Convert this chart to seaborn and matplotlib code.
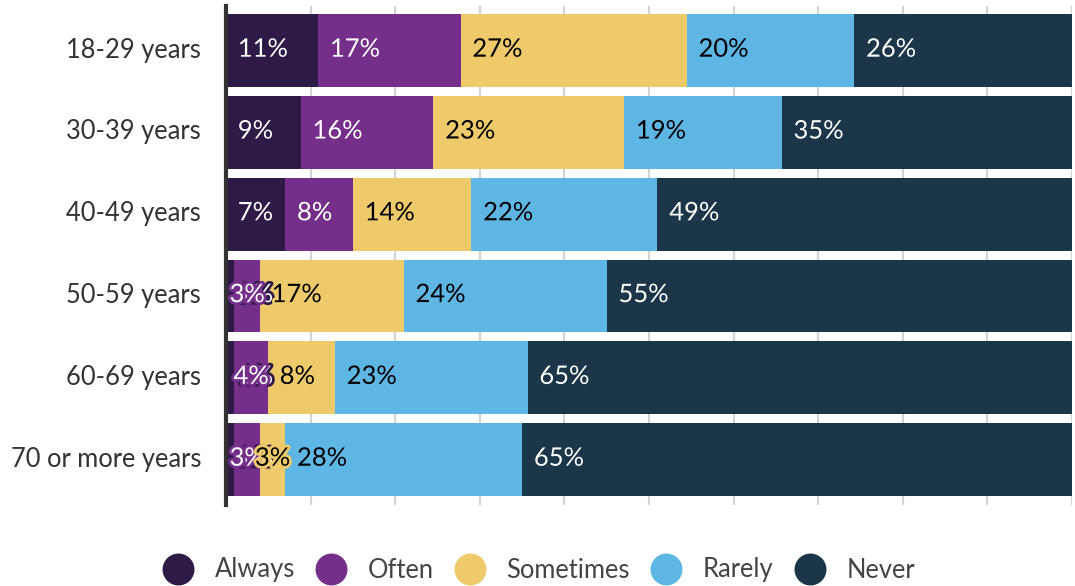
import numpy as np
import pandas as pd
import seaborn as sns
import matplotlib.pyplot as plt
import matplotlib.patheffects as pe
import matplotlib.transforms as mtrans
from matplotlib.lines import Line2D

ages = ['18-29 years', '30-39 years', '40-49 years', '50-59 years', '60-69 years', '70 or more years']
answers = ['Always', 'Often', 'Sometimes', 'Rarely', 'Never']
always = [11, 9, 7, 1, 1, 1]
often = [17, 16, 8, 3, 4, 3]
sometimes = [27, 23, 14, 17, 8, 3]
rarely = [20, 19, 22, 24, 23, 28]
never = [26, 35, 49, 55, 65, 65]

colors = ['#2e1a47', '#752f8a', '#efca6a', '#5eb6e4', '#1b3549']
text_colors = ['white', 'white', 'black', 'black', 'white']

df = pd.DataFrame({'age': ages, 'Always': always, 'Often': often,
                   'Sometimes': sometimes, 'Rarely': rarely, 'Never': never})
# rounded shares don't always add to 100, bars are scaled to the full width
share = df[answers].div(df[answers].sum(axis=1), axis=0) * 100
cum = share.cumsum(axis=1)

sns.set_style('white')
plt.rcParams['font.family'] = ['Lato', 'DejaVu Sans']

fs = 18.4

fig = plt.figure(figsize=(10.75, 5.86), dpi=100)
ax = fig.add_axes([226/1075, 1 - 505/586, (1072-226)/1075, 499/586])

# stacked bars: draw cumulative totals from the back
for i in range(len(answers) - 1, -1, -1):
    plot_df = pd.DataFrame({'age': ages, 'val': cum[answers[i]].values})
    sns.barplot(data=plot_df, x='val', y='age', color=colors[i], orient='h',
                width=0.89, saturation=1, errorbar=None, ax=ax, linewidth=0)

ax.set_xlim(0, 100)
ax.set_ylim(5.555, -0.545)
ax.set_xticks(np.arange(0, 101, 10))
ax.set_xticklabels([])
ax.xaxis.grid(True, color='#d4d4d4', linewidth=1.6)
ax.set_axisbelow(True)
ax.tick_params(axis='both', length=0)
ax.tick_params(axis='y', labelsize=fs, labelcolor='#333333', pad=18)
shift = mtrans.ScaledTranslation(0, 3/100, fig.dpi_scale_trans)
for t in ax.get_yticklabels():
    t.set_transform(t.get_transform() + shift)
ax.set_xlabel('')
ax.set_ylabel('')
for s in ['top', 'right', 'bottom']:
    ax.spines[s].set_visible(False)
ax.spines['left'].set_color('#333333')
ax.spines['left'].set_linewidth(3)

# value labels
z = 10
for r in range(len(ages)):
    for i, a in enumerate(answers):
        v = df.loc[r, a]
        w = share.loc[r, a]
        start = cum.loc[r, a] - w
        if v >= 5 or start < 0.01:
            ax.annotate(f'{v}%', xy=(start, r), xytext=(8.5, 1), textcoords='offset points',
                        ha='left', va='center', fontsize=fs, color=text_colors[i], zorder=z,
                        path_effects=[pe.withStroke(linewidth=4, foreground=colors[i])])
        else:
            ax.annotate(f'{v}%', xy=(start + w / 2, r), xytext=(0, 1), textcoords='offset points',
                        ha='center', va='center', fontsize=fs, color=text_colors[i], zorder=z,
                        path_effects=[pe.withStroke(linewidth=4, foreground=colors[i])])
        z += 1

handles = [Line2D([], [], marker='o', linestyle='none', markersize=23,
                  markerfacecolor=c, markeredgewidth=0) for c in colors]
fig.legend(handles, answers, loc='center', bbox_to_anchor=(0.501, 1 - 570/586), ncol=5,
           frameon=False, fontsize=fs, labelcolor='#444444', handlelength=1.25,
           handletextpad=0.8, columnspacing=0.8, borderpad=0)

fig.savefig('out.png', dpi=100)
